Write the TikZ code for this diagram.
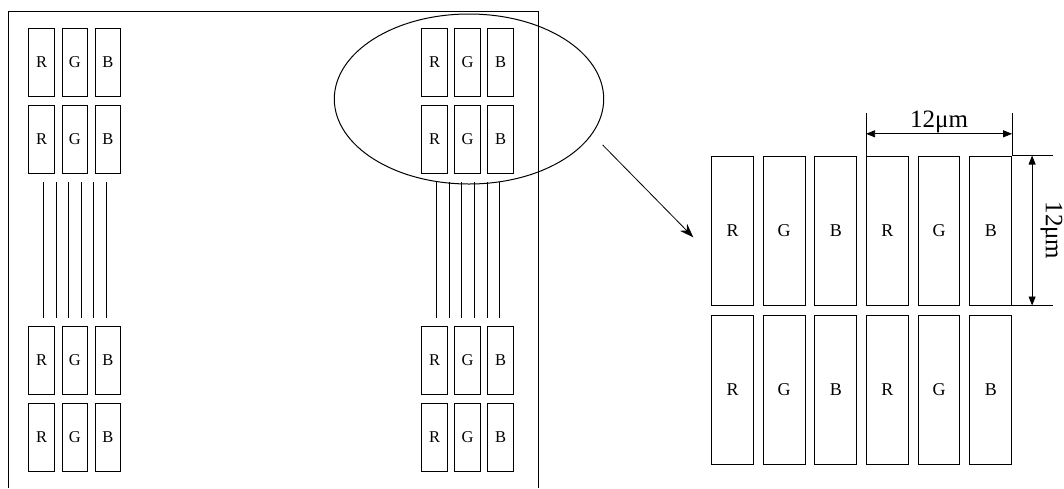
\documentclass[tikz,border=0pt]{standalone}
\usepackage{fontspec}
\setmainfont{Liberation Serif}
\usetikzlibrary{arrows.meta,positioning,calc}

\tikzset{
    pix/.style={draw=black, line width=1pt, inner sep=0pt, minimum width=25.5pt, minimum height=68pt, font=\fontsize{16.5}{17}\selectfont},
    bigpix/.style={draw=black, line width=1pt, inner sep=0pt, minimum width=41.7pt, minimum height=149pt, font=\fontsize{18}{19}\selectfont},
    dimtext/.style={font=\fontsize{25}{27}\selectfont, inner sep=1pt},
    dimarrow/.style={{Triangle[length=9pt,width=7pt]}-{Triangle[length=9pt,width=7pt]},line width=0.8pt}
}

\begin{document}
\begin{tikzpicture}[x=1pt,y=-1pt,line width=1pt]
    \useasboundingbox (0,0) rectangle (1064,488);

    % panel
    \draw (8,488) -- (8,11) -- (538,11) -- (538,488);

    % sub-pixels on the panel
    \foreach \g/\x in {L/41.7, P/434.5}
    {
        \foreach \r/\y in {1/62, 2/139, 3/360, 4/437}
        {
            \foreach \c/\t in {0/R, 1/G, 2/B}
            {
                \node[pix] (\g\r\t) at (\x+33.1*\c,\y) {\t};
            }
        }
    };

    % data lines
    \foreach \i in {0,...,5}
    {
        \draw[line width=0.8pt] (43.5+12.5*\i,182) -- (43.5+12.5*\i,318);
        \draw[line width=0.8pt] (436.7+12.55*\i,182) -- (436.7+12.55*\i,318);
    };

    % zoom
    \draw (469,99) ellipse [x radius=134.7pt, y radius=85pt];
    \coordinate (from) at (602.7,145);
    \coordinate (to) at (693.3,237.3);
    \draw[-{Stealth[length=14pt,width=10pt]},line width=0.8pt] (from) -- (to);

    % enlarged sub-pixels
    \foreach \r/\y in {1/230.5, 2/389.7}
    {
        \foreach \c/\t in {0/R, 1/G, 2/B, 3/R, 4/G, 5/B}
        {
            \node[bigpix] (Z\r\c) at (732.5+51.65*\c,\y) {\t};
        }
    };

    % dimensions
    \coordinate (hl) at (Z13.north west);
    \coordinate (hr) at (Z15.north east);
    \coordinate (hl') at ($(hl)+(0,-43)$);
    \coordinate (hr') at ($(hr)+(0,-43)$);
    \draw[line width=0.8pt] (hl) -- (hl') (hr) -- (hr');
    \draw[dimarrow] ($(hl)+(0,-21.7)$) -- node[dimtext,above] {12μm} ($(hr)+(0,-21.7)$);

    \coordinate (vt) at (Z15.north east);
    \coordinate (vb) at (Z15.south east);
    \draw[line width=0.8pt] (vt) -- ++(41.3,0) (vb) -- ++(41.3,0);
    \draw[dimarrow] ($(vt)+(20,0)$) -- ($(vb)+(20,0)$);
    \node[dimtext,rotate=-90,anchor=south] (vlabel) at ($(vt)!0.5!(vb)+(27,0)$) {12μm};
\end{tikzpicture}
\end{document}
